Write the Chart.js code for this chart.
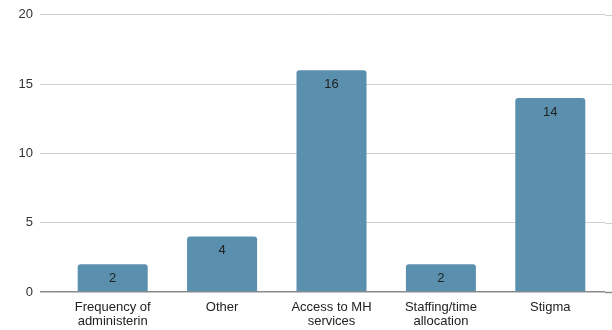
<!DOCTYPE html>
<html>
<head>
<meta charset="utf-8">
<script src="https://cdn.jsdelivr.net/npm/chart.js@4.4.1/dist/chart.umd.min.js"></script>
<style>
  html, body { margin: 0; padding: 0; background: #fff; }
  #wrap { width: 612px; height: 330px; }
</style>
</head>
<body>
<div id="wrap"><canvas id="myChart" width="612" height="330"></canvas></div>
<script>
const categories = [
  ["Frequency of", "administerin"],
  ["Other"],
  ["Access to MH", "services"],
  ["Staffing/time", "allocation"],
  ["Stigma"],
];
const counts = [2, 4, 16, 2, 14];
const yTicks = [0, 5, 10, 15, 20];

const barColor = "#5a8fae";
const gridColor = "#d0d0d0";
const zeroColor = "#8a8a8a";
const textColor = "#222";
const fontFamily = "'Liberation Sans', Arial, sans-serif";

// value written inside each bar, just under its top
const barValues = {
  id: "barValues",
  afterDatasetsDraw(chart) {
    const ctx = chart.ctx;
    const meta = chart.getDatasetMeta(0);
    ctx.save();
    ctx.font = "13px " + fontFamily;
    ctx.fillStyle = textColor;
    ctx.textAlign = "center";
    ctx.textBaseline = "middle";
    meta.data.forEach((bar, i) => {
      ctx.fillText(String(counts[i]), bar.x, bar.y + 14);
    });
    ctx.restore();
  },
};

// carry the horizontal grid lines on to the right edge of the canvas
const gridToEdge = {
  id: "gridToEdge",
  beforeDatasetsDraw(chart) {
    const ctx = chart.ctx;
    const y = chart.scales.y;
    ctx.save();
    yTicks.forEach((v) => {
      const py = Math.round(y.getPixelForValue(v)) + 0.5;
      ctx.strokeStyle = v === 0 ? zeroColor : gridColor;
      ctx.lineWidth = v === 0 ? 1.5 : 1;
      ctx.beginPath();
      ctx.moveTo(chart.chartArea.right, py);
      ctx.lineTo(chart.width, py);
      ctx.stroke();
    });
    ctx.restore();
  },
};

const ctx = document.getElementById("myChart").getContext("2d");
new Chart(ctx, {
  type: "bar",
  data: {
    labels: categories,
    datasets: [
      {
        data: counts,
        backgroundColor: barColor,
        borderRadius: 3,
        borderSkipped: "bottom",
        barPercentage: 0.64,
        categoryPercentage: 1,
      },
    ],
  },
  options: {
    responsive: false,
    animation: false,
    layout: { padding: { top: 13, right: 7, bottom: 0, left: 0 } },
    plugins: {
      legend: { display: false },
      tooltip: { enabled: false },
    },
    scales: {
      x: {
        grid: { display: false, drawTicks: false },
        border: { display: false },
        ticks: {
          color: textColor,
          padding: 8,
          maxRotation: 0,
          font: { family: fontFamily, size: 13, lineHeight: 1.1 },
        },
        afterFit(scale) {
          scale.height = 38;
        },
      },
      y: {
        min: 0,
        max: 20,
        afterBuildTicks(scale) {
          scale.ticks = yTicks.map((v) => ({ value: v }));
        },
        border: { display: false },
        grid: {
          color: (c) => (c.tick && c.tick.value === 0 ? zeroColor : gridColor),
          lineWidth: (c) => (c.tick && c.tick.value === 0 ? 1.5 : 1),
          tickLength: 18,
        },
        ticks: {
          color: "#333",
          padding: 7,
          font: { family: fontFamily, size: 13 },
        },
        afterFit(scale) {
          scale.width = 58;
        },
      },
    },
  },
  plugins: [gridToEdge, barValues],
});
</script>
</body>
</html>
